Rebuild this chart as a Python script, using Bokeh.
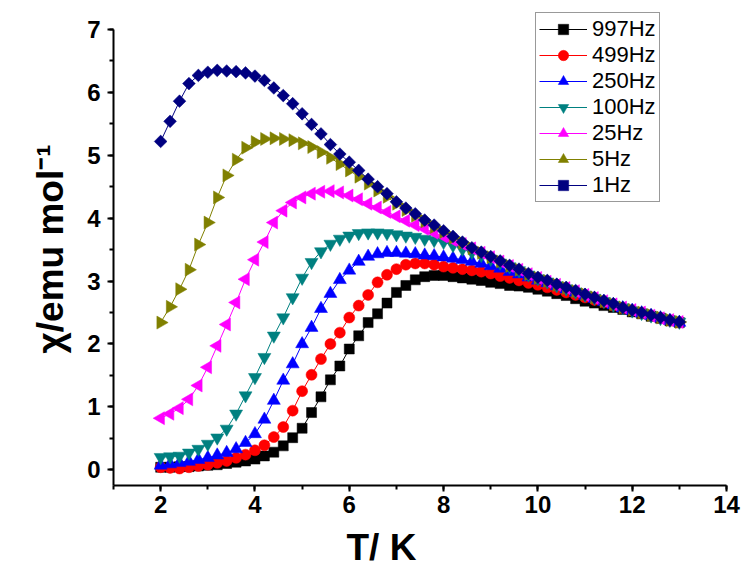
from math import pi
from bokeh.plotting import figure
from bokeh.models import Range1d, SingleIntervalTicker, Legend, LegendItem, Title
from bokeh.embed import file_html
from bokeh.resources import INLINE

temperature = [2.0, 2.2, 2.4, 2.6, 2.8, 3.0, 3.2, 3.4, 3.6, 3.8,
               4.0, 4.2, 4.4, 4.6, 4.8, 5.0, 5.2, 5.4, 5.6, 5.8,
               6.0, 6.2, 6.4, 6.6, 6.8, 7.0, 7.2, 7.4, 7.6, 7.8,
               8.0, 8.2, 8.4, 8.6, 8.8, 9.0, 9.2, 9.4, 9.6, 9.8,
               10.0, 10.2, 10.4, 10.6, 10.8, 11.0, 11.2, 11.4, 11.6, 11.8,
               12.0, 12.2, 12.4, 12.6, 12.8, 13.0]

chi_997 = [0.04, 0.04, 0.05, 0.05, 0.06, 0.07, 0.08, 0.10, 0.12, 0.14,
           0.17, 0.22, 0.28, 0.38, 0.51, 0.66, 0.91, 1.16, 1.43, 1.65,
           1.92, 2.13, 2.34, 2.48, 2.65, 2.82, 2.93, 3.02, 3.07, 3.09,
           3.09, 3.07, 3.05, 3.03, 3.01, 2.98, 2.96, 2.93, 2.92, 2.90,
           2.87, 2.84, 2.80, 2.77, 2.72, 2.68, 2.65, 2.61, 2.58, 2.55,
           2.51, 2.48, 2.44, 2.41, 2.37, 2.34]

chi_499 = [0.04, 0.03, 0.02, 0.04, 0.06, 0.08, 0.11, 0.14, 0.19, 0.24,
           0.31, 0.39, 0.52, 0.68, 0.94, 1.25, 1.51, 1.76, 2.00, 2.18,
           2.42, 2.61, 2.78, 2.98, 3.10, 3.19, 3.26, 3.28, 3.28, 3.26,
           3.23, 3.21, 3.19, 3.17, 3.15, 3.12, 3.08, 3.05, 3.01, 2.97,
           2.94, 2.90, 2.86, 2.82, 2.78, 2.74, 2.70, 2.66, 2.61, 2.57,
           2.53, 2.49, 2.45, 2.41, 2.37, 2.34]

chi_250 = [0.07, 0.09, 0.11, 0.13, 0.16, 0.19, 0.23, 0.27, 0.33, 0.43,
           0.57, 0.80, 1.10, 1.42, 1.68, 2.00, 2.26, 2.56, 2.80, 3.02,
           3.17, 3.31, 3.39, 3.43, 3.45, 3.45, 3.44, 3.43, 3.41, 3.40,
           3.38, 3.36, 3.34, 3.31, 3.28, 3.24, 3.20, 3.15, 3.11, 3.06,
           3.01, 2.97, 2.92, 2.87, 2.82, 2.77, 2.72, 2.67, 2.62, 2.57,
           2.53, 2.49, 2.45, 2.41, 2.37, 2.34]

chi_100 = [0.20, 0.21, 0.22, 0.27, 0.33, 0.41, 0.51, 0.65, 0.89, 1.18,
           1.47, 1.79, 2.13, 2.42, 2.74, 3.05, 3.30, 3.47, 3.59, 3.67,
           3.72, 3.76, 3.77, 3.77, 3.76, 3.74, 3.72, 3.70, 3.67, 3.65,
           3.62, 3.57, 3.51, 3.46, 3.41, 3.35, 3.29, 3.23, 3.17, 3.10,
           3.04, 2.99, 2.93, 2.88, 2.83, 2.78, 2.73, 2.68, 2.62, 2.58,
           2.53, 2.49, 2.45, 2.41, 2.38, 2.35]

chi_25 = [0.82, 0.89, 0.98, 1.12, 1.34, 1.63, 1.97, 2.31, 2.66, 3.03,
          3.34, 3.62, 3.93, 4.12, 4.25, 4.33, 4.39, 4.42, 4.43, 4.41,
          4.36, 4.30, 4.23, 4.17, 4.10, 4.03, 3.96, 3.89, 3.83, 3.77,
          3.71, 3.65, 3.59, 3.52, 3.45, 3.38, 3.31, 3.24, 3.18, 3.11,
          3.05, 2.99, 2.94, 2.89, 2.84, 2.78, 2.73, 2.68, 2.63, 2.58,
          2.54, 2.50, 2.45, 2.41, 2.38, 2.35]

chi_5 = [2.34, 2.59, 2.87, 3.18, 3.58, 3.93, 4.33, 4.68, 4.93, 5.12,
         5.21, 5.26, 5.27, 5.26, 5.24, 5.19, 5.13, 5.05, 4.96, 4.86,
         4.76, 4.66, 4.55, 4.44, 4.34, 4.23, 4.13, 4.04, 3.95, 3.86,
         3.78, 3.69, 3.61, 3.52, 3.45, 3.38, 3.31, 3.24, 3.18, 3.11,
         3.05, 3.00, 2.94, 2.89, 2.84, 2.79, 2.74, 2.68, 2.63, 2.58,
         2.54, 2.50, 2.46, 2.42, 2.38, 2.35]

chi_1 = [5.22, 5.54, 5.86, 6.14, 6.27, 6.32, 6.35, 6.34, 6.33, 6.31,
         6.26, 6.19, 6.07, 5.95, 5.82, 5.66, 5.49, 5.34, 5.17, 5.02,
         4.89, 4.76, 4.62, 4.50, 4.39, 4.26, 4.16, 4.07, 3.97, 3.89,
         3.80, 3.71, 3.62, 3.53, 3.46, 3.39, 3.32, 3.25, 3.19, 3.12,
         3.06, 3.01, 2.95, 2.90, 2.85, 2.79, 2.74, 2.69, 2.64, 2.58,
         2.54, 2.50, 2.46, 2.42, 2.38, 2.35]

labels = ["997Hz", "499Hz", "250Hz", "100Hz", "25Hz", "5Hz", "1Hz"]
series = [chi_997, chi_499, chi_250, chi_100, chi_25, chi_5, chi_1]
colors = ["#000000", "#FF0000", "#0000FF", "#008080", "#FF00FF", "#808000", "#000080"]
markers = ["square", "circle", "triangle", "inverted_triangle", "triangle", "triangle", "square"]
sizes = [10, 11, 13, 13, 13, 13, 9]
angles = [0, 0, 0, 0, pi / 2, -pi / 2, pi / 4]

p = figure(width=744, height=570, output_backend="svg", toolbar_location=None,
           x_range=Range1d(1, 14), y_range=Range1d(-0.25, 7.27),
           min_border_left=113, min_border_right=18, min_border_top=12, min_border_bottom=85)
p.xgrid.visible = False
p.ygrid.visible = False
p.outline_line_color = None
p.background_fill_color = "white"
p.border_fill_color = "white"

p.xaxis.ticker = SingleIntervalTicker(interval=2, num_minor_ticks=2)
p.yaxis.ticker = SingleIntervalTicker(interval=1, num_minor_ticks=2)
p.yaxis.bounds = (-0.25, 7)
for ax in (p.xaxis[0], p.yaxis[0]):
    ax.axis_line_width = 2
    ax.axis_line_color = "black"
    ax.major_tick_line_width = 2
    ax.minor_tick_line_width = 2
    ax.major_tick_line_color = "black"
    ax.minor_tick_line_color = "black"
    ax.major_tick_in = 0
    ax.major_tick_out = 6
    ax.minor_tick_in = 0
    ax.minor_tick_out = 4
    ax.major_label_text_font = "Liberation Sans"
    ax.major_label_text_font_style = "bold"
    ax.major_label_text_font_size = "24px"
    ax.major_label_text_color = "black"
p.xaxis.major_label_standoff = 4
p.yaxis.major_label_standoff = 7

p.yaxis.axis_label = "χ/emu mol⁻¹"
p.yaxis.axis_label_text_font = "Liberation Sans"
p.yaxis.axis_label_text_font_style = "bold"
p.yaxis.axis_label_text_font_size = "37px"
p.yaxis.axis_label_text_color = "black"
p.yaxis.axis_label_standoff = 13

p.add_layout(Title(text="T/ K", align="left", offset=233, standoff=0,
                   padding=(0, 0, 9, 0),
                   text_font="Liberation Sans", text_font_style="bold",
                   text_font_size="37px", text_color="black"), "below")

items = []
for lab, vals, c, m, s, a in zip(labels, series, colors, markers, sizes, angles):
    ln = p.line(temperature, vals, line_color=c, line_width=1)
    sc = p.scatter(temperature, vals, marker=m, size=s, angle=a,
                   fill_color=c, line_color=c, line_width=0.5)
    items.append(LegendItem(label=lab, renderers=[ln, sc]))

legend = Legend(items=items, location=(422, 283), margin=0, padding=3,
                spacing=0, label_height=26, glyph_height=26, glyph_width=48,
                label_standoff=5, label_text_font="Liberation Sans",
                label_text_font_size="22px", label_text_color="black",
                border_line_color="#333333", border_line_width=1,
                background_fill_color="white", background_fill_alpha=1)
p.add_layout(legend)

open("out.html", "w").write(file_html(p, INLINE))
